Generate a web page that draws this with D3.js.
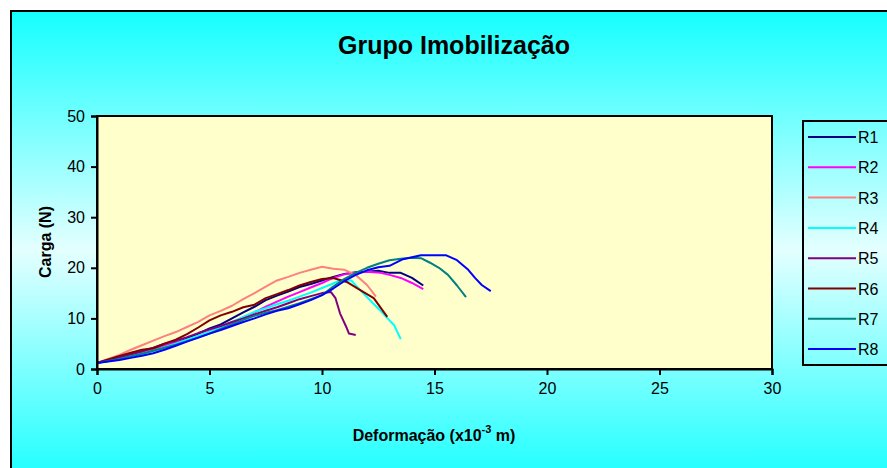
<!DOCTYPE html>
<html>
<head>
<meta charset="utf-8">
<script src="https://cdn.jsdelivr.net/npm/d3@7"></script>
<style>
  body { margin: 0; background: #fff; }
  text { font-family: "Liberation Sans", Arial, sans-serif; }
</style>
</head>
<body>
<div id="chart"></div>
<script>
// ----------------------------
// Data (x: deformação x10^-3 m, y: carga N)
// ----------------------------
var seriesNames = ["R1", "R2", "R3", "R4", "R5", "R6", "R7", "R8"];
var seriesColors = ["#000080", "#ff00ff", "#ff8080", "#00ffff", "#800080", "#800000", "#008080", "#0000ff"];

var R1 = [[0,1.2],[0.5,1.7],[1,2.2],[1.5,2.6],[2,3.2],[2.5,3.8],[3,4.5],[3.5,5.2],[4,6],[4.5,7],[5,8],[5.5,8.8],[6,10],[6.5,11.2],[7,12.3],[7.5,13.6],[8,14.5],[8.5,15.3],[9,16.2],[9.5,16.8],[10,17.5],[10.5,18.2],[11,18.8],[11.5,19.1],[12,19.2],[12.5,19.4],[13,19],[13.5,19],[14,18],[14.5,16.5]];
var R2 = [[0,1.2],[0.5,1.9],[1,2.3],[1.5,2.8],[2,3.3],[2.5,4],[3,4.6],[3.5,5.2],[4,5.8],[4.5,6.6],[5,7.3],[5.5,8.2],[6,9],[6.5,10.2],[7,11.2],[7.5,12.3],[8,13.3],[8.5,14.3],[9,15.2],[9.5,16.1],[10,17],[10.5,18],[11,18.7],[11.5,19],[12,19.2],[12.6,19],[13,18.6],[13.5,18],[14,17],[14.5,15.8]];
var R3 = [[0,1.2],[0.5,2],[1,2.8],[1.5,3.8],[2,4.7],[2.5,5.6],[3,6.5],[3.5,7.3],[4,8.3],[4.5,9.3],[5,10.6],[5.5,11.5],[6,12.5],[6.5,13.8],[7,15],[7.5,16.3],[8,17.5],[8.5,18.2],[9,19],[9.5,19.6],[10,20.2],[10.5,19.8],[11,19.6],[11.5,18.6],[12,16.6],[12.4,14.3]];
var R4 = [[0,1.2],[0.5,1.6],[1,2],[1.5,2.5],[2,3],[2.5,3.6],[3,4.3],[3.5,5],[4,5.8],[4.5,6.6],[5,7.3],[5.5,8.3],[6,9.3],[6.5,10.3],[7,11.3],[7.5,12],[8,12.8],[8.5,13.5],[9,14.3],[9.5,15.1],[10,16],[10.5,16.9],[10.8,17.5],[11.3,17.5],[11.7,15.6],[12.2,13.3],[12.6,11.5],[13,9.6],[13.2,8.7],[13.5,5.9]];
var R5 = [[0,1.2],[0.5,1.8],[1,2.3],[1.5,2.9],[2,3.5],[2.5,4.2],[3,5],[3.5,5.6],[4,6.3],[4.5,7.1],[5,7.8],[5.5,8.5],[6,9.3],[6.5,10],[7,10.8],[7.5,11.5],[8,12.2],[8.5,13],[9,13.8],[9.5,14.4],[10,15],[10.4,15.2],[10.6,14],[10.8,11],[11.1,8.1],[11.2,7],[11.5,6.7]];
var R6 = [[0,1.2],[0.5,1.9],[1,2.6],[1.5,3.2],[2,3.8],[2.5,4.1],[3,5],[3.5,5.8],[4,6.9],[4.5,8.2],[5,9.6],[5.5,10.6],[6,11.3],[6.5,12.2],[7,12.7],[7.5,14],[8,14.8],[8.5,15.6],[9,16.5],[9.5,17.2],[10,17.8],[10.5,18],[11.1,17.2],[11.7,15.6],[12.3,14],[12.9,10.3]];
var R7 = [[0,1.2],[0.5,1.6],[1,2],[1.5,2.5],[2,3],[2.5,3.6],[3,4.2],[3.5,4.8],[4,5.5],[4.5,6.2],[5,7],[5.5,7.9],[6,8.8],[6.5,9.7],[7,10.5],[7.5,11.1],[8,11.6],[8.5,12.3],[9,13],[9.5,13.8],[10,14.6],[10.5,16.3],[11,17.8],[11.5,19],[12,20],[12.5,20.8],[13,21.5],[13.5,21.8],[14,22],[14.4,21.9],[14.8,21],[15.2,20],[15.6,18.6],[16,16.5],[16.4,14.2]];
var R8 = [[0,1.2],[0.5,1.5],[1,1.8],[1.5,2.2],[2,2.6],[2.5,3.1],[3,3.8],[3.5,4.6],[4,5.4],[4.5,6.2],[5,7],[5.5,7.7],[6,8.5],[6.5,9.3],[7,10],[7.5,10.8],[8,11.5],[8.5,12],[9,12.8],[9.5,13.6],[10,14.6],[10.5,15.9],[11,17.4],[11.5,18.6],[12,19.5],[12.5,20.1],[13,20.4],[13.6,21.7],[14.4,22.5],[15.5,22.5],[16,21.5],[16.5,19.6],[16.8,18],[17.1,16.6],[17.5,15.4]];
var seriesData = [R1, R2, R3, R4, R5, R6, R7, R8];

var xTicks = [0, 5, 10, 15, 20, 25, 30];
var yTicks = [0, 10, 20, 30, 40, 50];

// ----------------------------
// Layout
// ----------------------------
var W = 887, H = 468;
var plot = { left: 97, right: 772, top: 116, bottom: 369 };

var svg = d3.select("#chart").append("svg")
  .attr("width", W).attr("height", H);

var defs = svg.append("defs");
var grad = defs.append("linearGradient")
  .attr("id", "bg").attr("x1", 0).attr("y1", 0).attr("x2", 0).attr("y2", 1);
grad.append("stop").attr("offset", "0%").attr("stop-color", "#14ffff");
grad.append("stop").attr("offset", "50%").attr("stop-color", "#e4ffff");
grad.append("stop").attr("offset", "100%").attr("stop-color", "#14ffff");

// chart area frame (right and bottom edges run off the picture)
svg.append("rect")
  .attr("x", 11).attr("y", 11).attr("width", W + 10).attr("height", H + 10)
  .attr("fill", "url(#bg)").attr("stroke", "#000").attr("stroke-width", 2);

// ----------------------------
// Scales
// ----------------------------
var x = d3.scaleLinear().domain([0, 30]).range([plot.left, plot.right]);
var y = d3.scaleLinear().domain([0, 50]).range([plot.bottom, plot.top]);

// plot background
svg.append("rect")
  .attr("x", plot.left).attr("y", plot.top)
  .attr("width", plot.right - plot.left).attr("height", plot.bottom - plot.top)
  .attr("fill", "#ffffcc");

// ----------------------------
// Lines
// ----------------------------
var line = d3.line().x(d => x(d[0])).y(d => y(d[1]));
svg.append("g").selectAll("path")
  .data(seriesData)
  .enter().append("path")
  .attr("d", line)
  .attr("fill", "none")
  .attr("stroke", (d, i) => seriesColors[i])
  .attr("stroke-width", 2)
  .attr("stroke-linejoin", "round");

// plot border
svg.append("rect")
  .attr("x", plot.left).attr("y", plot.top)
  .attr("width", plot.right - plot.left).attr("height", plot.bottom - plot.top)
  .attr("fill", "none").attr("stroke", "#000").attr("stroke-width", 2);

// ----------------------------
// Axes
// ----------------------------
var xAxis = svg.append("g")
  .attr("transform", `translate(0,${plot.bottom})`)
  .call(d3.axisBottom(x).tickValues(xTicks).tickSize(6).tickPadding(8).tickFormat(d3.format("d")));
var yAxis = svg.append("g")
  .attr("transform", `translate(${plot.left},0)`)
  .call(d3.axisLeft(y).tickValues(yTicks).tickSize(6).tickPadding(6).tickFormat(d3.format("d")));

[xAxis, yAxis].forEach(function(ax) {
  ax.select(".domain").attr("stroke", "#000").attr("stroke-width", 2);
  ax.selectAll(".tick line").attr("stroke", "#000").attr("stroke-width", 2);
  ax.selectAll(".tick text")
    .attr("fill", "#000")
    .style("font-family", '"Liberation Sans", Arial, sans-serif')
    .style("font-size", "16px");
});

// ----------------------------
// Titles
// ----------------------------
svg.append("text")
  .attr("x", 454).attr("y", 54)
  .attr("text-anchor", "middle")
  .attr("textLength", 232).attr("lengthAdjust", "spacingAndGlyphs")
  .style("font-size", "25px").style("font-weight", "bold")
  .text("Grupo Imobilização");

svg.append("text")
  .attr("transform", "translate(51,242) rotate(-90)")
  .attr("text-anchor", "middle")
  .style("font-size", "16px").style("font-weight", "bold")
  .text("Carga (N)");

var xTitle = svg.append("text")
  .attr("x", 434).attr("y", 441)
  .attr("text-anchor", "middle")
  .style("font-size", "16px").style("font-weight", "bold");
xTitle.append("tspan").text("Deformação (x10");
xTitle.append("tspan").attr("dy", -8).style("font-size", "11px").text("-3");
xTitle.append("tspan").attr("dy", 8).text(" m)");

// ----------------------------
// Legend
// ----------------------------
var legend = svg.append("g");
legend.append("rect")
  .attr("x", 803).attr("y", 121).attr("width", 90).attr("height", 244)
  .attr("fill", "none").attr("stroke", "#000").attr("stroke-width", 2);

var items = legend.selectAll("g.item")
  .data(seriesNames)
  .enter().append("g")
  .attr("class", "item")
  .attr("transform", (d, i) => `translate(0,${137 + i * 30.3})`);
items.append("line")
  .attr("x1", 808).attr("x2", 856)
  .attr("stroke", (d, i) => seriesColors[i]).attr("stroke-width", 2);
items.append("text")
  .attr("x", 858).attr("y", 6)
  .style("font-size", "16px")
  .text(d => d);
</script>
</body>
</html>
